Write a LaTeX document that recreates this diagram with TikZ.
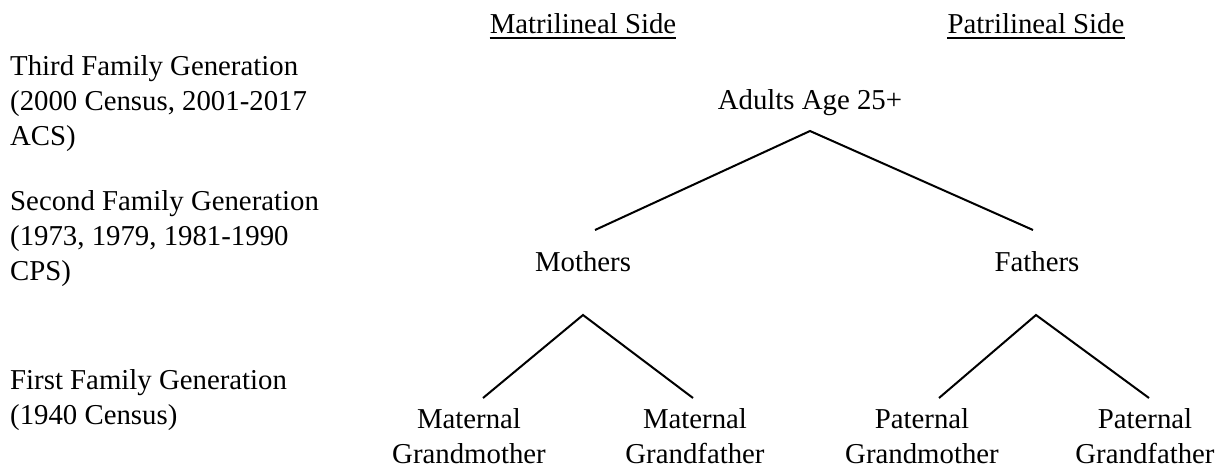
\documentclass[tikz,border=0pt]{standalone}
\usepackage{fontspec}
\setmainfont{Liberation Serif}
\usepackage{tikz}
\tikzstyle{gen} = [anchor=base west, align=left, inner sep=0pt, font=\fontsize{28.8}{35}\selectfont]
\tikzstyle{person} = [anchor=base, align=center, inner sep=0pt, font=\fontsize{28.8}{35}\selectfont]
\tikzstyle{side} = [anchor=base, inner sep=0pt, font=\fontsize{28.8}{35}\selectfont]
\tikzstyle{edge} = [line width=2pt]
\tikzstyle{uline} = [line width=2.5pt]

\begin{document}
\begin{tikzpicture}[x=1pt, y=-1pt]
\useasboundingbox (0,0) rectangle (1215,469);

% generation labels (base = last line)
\node (g3) [gen] at (10,145) {Third Family Generation\\(2000 Census, 2001-2017\\ACS)};
\node (g2) [gen] at (10,280) {Second Family Generation\\(1973, 1979, 1981-1990\\CPS)};
\node (g1) [gen] at (10,424) {First Family Generation\\(1940 Census)};

% sides
\node (ms) [side] at (583,33) {Matrilineal Side};
\node (ps) [side] at (1036,33) {Patrilineal Side};
\draw [uline] ([yshift=-5pt]ms.base west) -- ([yshift=-5pt]ms.base east);
\draw [uline] ([yshift=-5pt]ps.base west) -- ([yshift=-5pt]ps.base east);

% tree
\node (0) [person] at (810,109) {Adults Age 25+};
\node (1) [person] at (583,271) {Mothers};
\node (2) [person] at (1037,271) {Fathers};
\node (3) [person] at (469,463) {Maternal\\Grandmother};
\node (4) [person] at (695,463) {Maternal\\Grandfather};
\node (5) [person] at (922,463) {Paternal\\Grandmother};
\node (6) [person] at (1145,463) {Paternal\\Grandfather};

\coordinate (0f) at (810,131);
\coordinate (1t) at (595,230);
\coordinate (2t) at (1033,230);
\coordinate (1f) at (583,315);
\coordinate (2f) at (1036,315);
\coordinate (3t) at (483,398);
\coordinate (4t) at (693,398);
\coordinate (5t) at (939,398);
\coordinate (6t) at (1149,398);

\draw [edge] (1t) -- (0f) -- (2t);
\draw [edge] (3t) -- (1f) -- (4t);
\draw [edge] (5t) -- (2f) -- (6t);

\end{tikzpicture}
\end{document}
